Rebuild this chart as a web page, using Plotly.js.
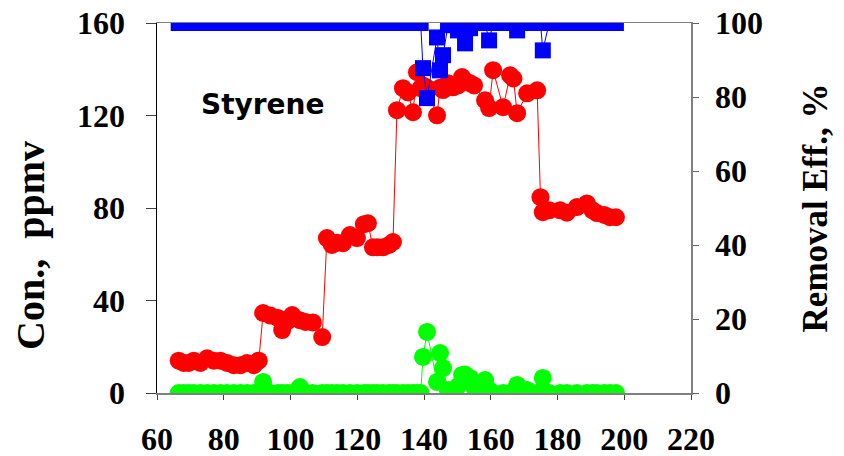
<!DOCTYPE html>
<html>
<head>
<meta charset="utf-8">
<script src="https://cdn.plot.ly/plotly-3.0.1.min.js"></script>
<style>html,body{margin:0;padding:0;background:#fff;}#chart{width:844px;height:456px;}</style>
</head>
<body>
<div id="chart"></div>
<script>
// Day of operation
const days = [66.5,68,69.5,71,73,75,77,79,81,83,85,87,89,90.5,
  91.8,94,96.3,97.5,99,100.5,102.8,104.5,106.7,109.5,
  110.9,112.4,114,115.7,117.8,119.9,122,123.2,124.7,126,127.7,129.5,130.7,
  131.9,133.7,135.2,136.7,137.9,139.0,139.7,140.9,143.9,144.8,145.7,147.2,148.7,150.2,151.4,152.3,153.8,155,
  158.3,159.5,160.7,163.7,165.8,166.8,167.9,170.9,173.9,
  174.9,175.6,177.5,180.8,182.8,185.8,188.8,190.5,191.8,194,195.7,197.5];
// Inlet concentration, ppmv
const inletConc = [14,13,13,14,13,15,14,14,13,12,12,13,12,14,
  34.6,33.5,32.4,27.2,31,33.7,31.5,30.7,30.5,24.2,
  67,64,65,64.8,68.3,67,73,73.4,63,63,63,64,65.3,
  122.3,131.8,130,121.4,138.7,131.8,133,132,120.1,132,131,134,132.2,133,136.6,135,134,133,
  126.6,123.2,139.6,123.6,137.4,136,121,129.6,130.9,
  84.7,78.2,79,79,78,80.4,82,79,77.8,77,76,76];
// Outlet concentration, ppmv
const outletConc = [0,0,0,0,0,0,0,0,0,0,0,0,0,0,
  4.8,0,0,0,0,0,2.6,0,0,0,
  0,0,0,0,0,0,0,0,0,0,0,0,0,
  0,0,0,0,0,0,15.6,26.4,4.8,17.3,10.8,1.3,0,3,7.8,8,6.5,2.6,
  5.6,1.3,0,0,0,0,3.5,1.3,0,
  0,6.5,0,0,0,0,0,0,0,0,0,0];
// Removal efficiency, %
const removalEff = [100,100,100,100,100,100,100,100,100,100,100,100,100,100,
  100,100,100,100,100,100,100,100,100,100,
  100,100,100,100,100,100,100,100,100,100,100,100,100,
  100,100,100,100,100,100,87.8,79.7,96.1,87.2,91.3,99.4,100,98,100,94.5,98.6,100,
  100,95.3,100,100,100,100,98,100,100,
  100,92.6,100,100,100,100,100,100,100,100,100,100];

const tickFont = {family: 'Liberation Serif', size: 32, color: '#000', weight: 700};
const titleFont = {family: 'Liberation Serif', size: 35, color: '#000', weight: 700};

const traces = [
  {x: days, y: inletConc, type: 'scatter', mode: 'lines+markers', name: 'Inlet',
   line: {color: '#ff0000', width: 1}, marker: {color: '#ff0000', size: 18, symbol: 'circle'}},
  {x: days, y: outletConc, type: 'scatter', mode: 'lines+markers', name: 'Outlet',
   line: {color: '#00ff00', width: 1}, marker: {color: '#00ff00', size: 18, symbol: 'circle'}},
  {x: days, y: removalEff, type: 'scatter', mode: 'lines+markers', name: 'RE', yaxis: 'y2',
   line: {color: '#0000ff', width: 1}, marker: {color: '#0000ff', size: 16, symbol: 'square'}}
];

const layout = {
  width: 844, height: 456,
  margin: {l: 157, r: 153, t: 23, b: 63, pad: 0},
  paper_bgcolor: '#fff', plot_bgcolor: '#fff',
  showlegend: false,
  xaxis: {range: [60, 220], dtick: 20, tick0: 60, showgrid: false, zeroline: false,
    showline: true, linecolor: '#808080', linewidth: 1.5, mirror: true,
    ticks: 'outside', ticklen: 5, tickcolor: '#404040', tickfont: tickFont,
    ticklabelstandoff: 12},
  yaxis: {range: [0, 160], dtick: 40, showgrid: false, zeroline: false,
    showline: true, linecolor: '#000', linewidth: 1.5,
    ticks: 'outside', ticklen: 10, tickcolor: '#404040', tickfont: tickFont,
    ticklabelstandoff: 14},
  yaxis2: {range: [0, 100], dtick: 20, overlaying: 'y', side: 'right', showgrid: false, zeroline: false,
    showline: true, linecolor: '#808080', linewidth: 1.5,
    ticks: 'outside', ticklen: 6, tickcolor: '#606060', tickfont: tickFont,
    ticklabelstandoff: 10,
    title: {text: 'Removal Eff., %', font: titleFont, standoff: 40}},
  annotations: [
    {x: 91.8, y: 124.9, xref: 'x', yref: 'y', text: 'Styrene', showarrow: false,
     font: {family: 'DejaVu Sans', size: 28, color: '#000', weight: 700}},
    {x: -0.238, y: 0.4, xref: 'paper', yref: 'paper', text: 'Con.,\u00a0\u00a0ppmv', textangle: -90,
     showarrow: false, xanchor: 'center', yanchor: 'middle',
     font: {family: 'Liberation Serif', size: 40, color: '#000', weight: 700}}
  ]
};

Plotly.newPlot('chart', traces, layout, {displayModeBar: false, staticPlot: true});
</script>
</body>
</html>
